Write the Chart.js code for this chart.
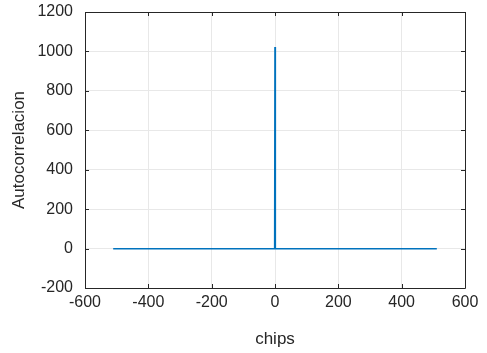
<!DOCTYPE html>
<html>
<head>
<meta charset="utf-8">
<script src="https://cdn.jsdelivr.net/npm/chart.js@4.4.1/dist/chart.umd.min.js"></script>
<style>
  html, body { margin: 0; padding: 0; background: #ffffff; }
  #wrap { width: 487px; height: 353px; position: relative; }
</style>
</head>
<body>
<div id="wrap"><canvas id="c" width="487" height="353"></canvas></div>
<script>
// Autocorrelation of the spreading code against its lag (in chips):
// flat at -1 everywhere except the in-phase peak at lag 0.
const lags = [-511, -1, 0, 1, 511];
const autocorr = [-1, -1, 1023, -1, -1];

const xTicks = [-600, -400, -200, 0, 200, 400, 600];
const yTicks = [-200, 0, 200, 400, 600, 800, 1000, 1200];

const axisColor = '#262626';
const gridColor = '#e8e8e8';
const lineColor = '#0072BD';

const points = lags.map((l, i) => ({ x: l, y: autocorr[i] }));

// Box around the plot area with inward tick marks on all four sides
const boxTicks = {
  id: 'boxTicks',
  afterDraw(chart) {
    const { ctx, chartArea: a, scales: { x, y } } = chart;
    const len = 4;
    ctx.save();
    ctx.strokeStyle = axisColor;
    ctx.lineWidth = 1;
    ctx.beginPath();
    ctx.rect(Math.round(a.left) + 0.5, Math.round(a.top) + 0.5,
             Math.round(a.right - a.left), Math.round(a.bottom - a.top));
    xTicks.forEach(v => {
      const px = Math.round(x.getPixelForValue(v)) + 0.5;
      ctx.moveTo(px, a.bottom); ctx.lineTo(px, a.bottom - len);
      ctx.moveTo(px, a.top); ctx.lineTo(px, a.top + len);
    });
    yTicks.forEach(v => {
      const py = Math.round(y.getPixelForValue(v)) + 0.5;
      ctx.moveTo(a.left, py); ctx.lineTo(a.left + len, py);
      ctx.moveTo(a.right, py); ctx.lineTo(a.right - len, py);
    });
    ctx.stroke();
    ctx.restore();
  }
};

const family = '"Liberation Sans", Arial, Helvetica, sans-serif';
const tickFont = { family, size: 16 };
const titleFont = { family, size: 17 };

new Chart(document.getElementById('c'), {
  type: 'line',
  data: {
    datasets: [{
      data: points,
      borderColor: lineColor,
      borderWidth: 1.6,
      pointRadius: 0,
      tension: 0,
      fill: false
    }]
  },
  options: {
    responsive: false,
    animation: false,
    events: [],
    layout: { padding: { top: 12, right: 22, left: 0, bottom: 0 } },
    plugins: { legend: { display: false }, tooltip: { enabled: false } },
    scales: {
      x: {
        type: 'linear',
        min: -600, max: 600,
        afterBuildTicks: s => { s.ticks = xTicks.map(v => ({ value: v })); },
        afterFit: s => { s.height = 65; s.paddingLeft = 0; s.paddingRight = 0; },
        grid: { color: gridColor, drawTicks: false },
        border: { display: false },
        ticks: { color: axisColor, font: tickFont, padding: 5, maxRotation: 0,
                 autoSkip: false, callback: v => String(v) },
        title: { display: true, text: 'chips', color: axisColor,
                 font: titleFont, padding: { top: 0, bottom: 3 } }
      },
      y: {
        type: 'linear',
        min: -200, max: 1200,
        afterBuildTicks: s => { s.ticks = yTicks.map(v => ({ value: v })); },
        afterFit: s => { s.width = 85; s.paddingTop = 0; s.paddingBottom = 0; },
        grid: { color: gridColor, drawTicks: false },
        border: { display: false },
        ticks: { color: axisColor, font: tickFont, padding: 12, autoSkip: false,
                 callback: v => String(v) },
        title: { display: true, text: 'Autocorrelacion', color: axisColor,
                 font: titleFont, padding: { top: 9, bottom: 0 } }
      }
    }
  },
  plugins: [boxTicks]
});
</script>
</body>
</html>
